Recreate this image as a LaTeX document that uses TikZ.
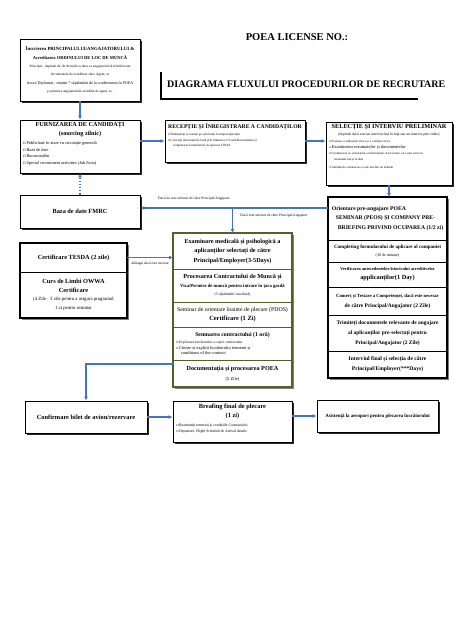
\documentclass[tikz,border=0pt]{standalone}
\usepackage{fontspec}
\setmainfont{Liberation Serif}
\newfontfamily\symfont{DejaVu Sans}
\usetikzlibrary{arrows.meta,backgrounds,positioning,fit,shadows}

\definecolor{flowblue}{RGB}{68,114,196}
\definecolor{stackgreen}{RGB}{79,98,40}
\newcommand{\fsz}[2]{\fontsize{#1}{#2}\selectfont}
\newcommand{\bul}{{\symfont ▫}\,}
\newcommand{\itembox}[2]{\parbox[t]{#1}{\raggedright #2}}

\begin{document}
\begin{tikzpicture}[x=1pt, y=-1pt,
    shadowbox/.style 2 args={draw, line width=0.9pt, fill=white,
        minimum width=#1, minimum height=#2, inner sep=1pt, align=center,
        drop shadow={shadow xshift=1.6pt, shadow yshift=-1.6pt, fill=black!85, opacity=1}},
    boxtext/.style={inner sep=0pt, align=center},
    cell/.style={draw=#1, line width=0.6pt, minimum width=119, inner sep=1pt,
        outer sep=0pt, align=center},
    stackframe/.style={draw=#1, line width=1.2pt, fill=white, inner sep=0pt,
        drop shadow={shadow xshift=1.6pt, shadow yshift=-1.6pt, fill=black!50, opacity=1}},
    flow/.style={flowblue, line width=1.1pt, -{Latex[length=4pt, width=4pt]}},
    note/.style={inner sep=0.5pt, font=\fsz{3.6}{4}},
]

\useasboundingbox (0,0) rectangle (474,632);
\begin{scope}[on background layer]
\fill[white] (0,0) rectangle (474,632);
\end{scope}

% headings
\node[font=\bfseries\fsz{10.5}{12}] (license) at (297,37) {POEA LICENSE NO.:};
\node[anchor=west, inner sep=0pt, font=\bfseries\fsz{10}{12}] (chart) at (167,84)
    {DIAGRAMA FLUXULUI PROCEDURILOR DE RECRUTARE};
\draw[line width=2pt] (161,72) -- (161,99) -- (418,99);

% top row
\node[shadowbox={120}{62}, font=\fsz{3.5}{8.4}] (reg) at (80,70) {%
    {\bfseries\fsz{4.8}{8.4}Înscrierea PRINCIPALULUI/ANGAJATORULUI \&}\\
    {\bfseries\fsz{4.5}{8.4}Acreditarea ORDINULUI DE LOC DE MUNCĂ}\\
    Principal - depinde de cât de mult va dura ca angajatorul să trimită toate\\
    documentele de acreditare către Agent, se\\
    {\fsz{4.1}{8.4}Acces Diplomat - minim 7 săptămâni de la confirmarea la POEA}\\
    și primirea angajatorului acreditat de agent, se.};

\node[shadowbox={120}{53}] (src) at (80,146.5) {};
\node[boxtext, below=3pt of src.north, font=\bfseries\fsz{6.2}{9}] (src-text)
    {FURNIZAREA DE CANDIDAȚI\\(sourcing zilnic)\\
    \itembox{114pt}{\mdseries\fsz{4.3}{6.5}\bul Publicitate în ziare cu circulație generală\\
    \bul Bază de date\\ \bul Recomandări\\ \bul Special recruitment activities (Job Fairs)}};

\node[shadowbox={140}{42}] (rec) at (235,141) {};
\node[boxtext, below=3.5pt of rec.north, font=\bfseries\fsz{5.7}{7.5}] (rec-text)
    {RECEPȚIE ȘI ÎNREGISTRARE A CANDIDAȚILOR\\
    \itembox{134pt}{\mdseries\fsz{3.2}{5.3}\bul Întâmpinați și asistați pe solicitanți în timpul aplicației\\
    \bul Colectați informații de bază prin trimiterea CV-ului/Rezumatului și\\
    \hspace*{5pt}completarea formularului de aplicare FINAS}};

\node[shadowbox={126}{63}] (sel) at (389,153.5) {};
\node[boxtext, below=3pt of sel.north, font=\bfseries\fsz{6.3}{7}] (sel-text)
    {SELECȚIE ȘI INTERVIU PRELIMINAR\\
    {\mdseries\fsz{3.7}{7}(depinde dacă este un interviu față în față sau un interviu prin video)}\\
    \itembox{120pt}{\mdseries\fsz{3.1}{5.8}\bul Evaluare a atributelor fizice și a condiției fizice\\
    \bul {\fsz{4.5}{5.8}Examinarea rezumatelor și documentelor}\\
    \bul Confirmarea cu solicitantul a informațiilor, dacă există, care sunt scrise în\\
    \hspace*{5pt}rezumatul său și în date\\[2pt]
    \bul Abilități de comunicare și alte niveluri de abilități}};

\node[shadowbox={120}{33}, font=\bfseries\fsz{6.3}{7}] (fmrc) at (80,211.5) {Baza de date FMRC};

% TESDA / OWWA
\node[cell=black, minimum width=107, minimum height=29, font=\bfseries\fsz{6.3}{8}] (tesda)
    at (73.5,257.5) {Certificare TESDA (2 zile)};
\node[cell=black, minimum width=107, minimum height=46, below=0pt of tesda, font=\fsz{4.8}{8.6}] (owwa)
    {{\bfseries\fsz{6.3}{8.6}Curs de Limbi OWWA}\\ {\bfseries\fsz{6.3}{8.6}Certificare}\\
    (4 Zile : 3 zile pentru a asigura programul\\ 1 zi pentru seminar};
\begin{scope}[on background layer]
\node[stackframe=black, fit=(tesda)(owwa)] (tesda-frame) {};
\end{scope}

% medical -> POEA
\node[cell=stackgreen, minimum height=36, font=\bfseries\fsz{6.2}{9.5}] (exam) at (232.5,251)
    {Examinare medicală și psihologică a\\aplicanților selectați de către\\Principal/Employer(3-5Days)};
\node[cell=stackgreen, minimum height=33, below=0pt of exam, font=\fsz{4}{8.6}] (contract)
    {{\bfseries\fsz{6.2}{8.6}Procesarea Contractului de Muncă și}\\
    {\bfseries\fsz{4.7}{8.6}Viza/Permise de muncă pentru intrare în țara gazdă}\\
    {\itshape\fsz{3.8}{8.6}(5 săptămâni sau două)}};
\node[cell=stackgreen, minimum height=25, below=0pt of contract, font=\fsz{5.8}{9.5}] (pdos)
    {Seminar de orientare înainte de plecare (PDOS)\\ {\bfseries\fsz{6.4}{9.5}Certificare (1 Zi)}};
\node[cell=stackgreen, minimum height=33, below=0pt of pdos, font=\bfseries\fsz{5.8}{7}] (sign)
    {Semnarea contractului (1 oră)\\
    \itembox{113pt}{\mdseries\fsz{3.6}{5.6}\bul Explicarea lucrătorului a copiei contractului\\
    \bul {\fsz{4.4}{5.6}Citește și explică lucrătorului termenii și}\\
    \hspace*{5pt}{\fsz{4.4}{5.6}conditions of the contract}}};
\node[cell=stackgreen, minimum height=27, below=0pt of sign, font=\fsz{4.5}{10}] (poea)
    {{\bfseries\fsz{6.2}{10}Documentația și procesarea POEA}\\(5 Zile)};
\begin{scope}[on background layer]
\node[stackframe=stackgreen, fit=(exam)(poea)] (exam-frame) {};
\end{scope}

% orientation -> final interview
\node[cell=black, minimum height=43, align=left, font=\bfseries\fsz{5.7}{9.3}] (peos) at (387.5,218.5)
    {Orientare pre-angajare POEA\\ \hspace*{4pt}SEMINAR (PEOS) ȘI COMPANY PRE-\\
    \hspace*{6pt}BRIEFING PRIVIND OCUPAREA (1/2 zi)};
\node[cell=black, minimum height=22, below=0pt of peos, font=\fsz{4}{8}] (form)
    {{\bfseries\fsz{5}{8}Completing formularului de aplicare al companiei}\\(30 de minute)};
\node[cell=black, minimum height=25, below=0pt of form, font=\bfseries\fsz{4.4}{9}] (check)
    {Verificarea antecedentelor/istoricului acreditivelor\\{\fsz{6.3}{9}applicanților(1 Day)}};
\node[cell=black, minimum height=28, below=0pt of check, font=\bfseries\fsz{4.7}{10}] (trade)
    {Comerț și Testare a Competenței, dacă este necesar\\{\fsz{5.5}{10}de către Principal/Angajator (2 Zile)}};
\node[cell=black, minimum height=36, below=0pt of trade, font=\bfseries\fsz{5.4}{10}] (docs)
    {Trimiteți documentele relevante de angajare\\al aplicanților pre-selectați pentru\\Principal/Angajator (2 Zile)};
\node[cell=black, minimum height=27, below=0pt of docs, font=\bfseries\fsz{5.6}{10}] (final)
    {Interviul final și selecția de către\\Principal/Employer(***Days)};
\begin{scope}[on background layer]
\node[stackframe=black, fit=(peos)(final)] (peos-frame) {};
\end{scope}

% bottom row
\node[shadowbox={122}{32}, font=\bfseries\fsz{6.4}{7}] (ticket) at (86,417) {Confirmare bilet de avion/rezervare};
\node[shadowbox={119}{41}] (brief) at (232.5,421.5) {};
\node[boxtext, below=3pt of brief.north, font=\bfseries\fsz{6.4}{9}] (brief-text)
    {Breafing final de plecare\\(1 zi)\\
    \itembox{113pt}{\mdseries\fsz{3.8}{6}\bul Reamintiți termenii și condițiile Contractului\\
    \bul Departure, Flight Schedule \& Arrival details}};
\node[shadowbox={121}{32}, font=\bfseries\fsz{4.9}{7}] (airport) at (377.5,416)
    {Asistență la aeroport pentru plecarea lucrătorului};

% connectors
\draw[flow] (reg) -- (src);
\draw[flow] (src.east |- rec.west) -- (rec.west);
\draw[flow] (rec.east) -- (rec.east -| sel.west);
\draw[flow] (sel.south) -- (sel.south |- peos.north);
\draw[flow, dotted] (fmrc) -- (src);
\coordinate (split) at (232.5,208);
\draw[flow] (peos.west |- split) -- (fmrc.east |- split);
\draw[flow] (split) -- (exam);
\node[note] (reject) at (194,199) {Dacă nu este selectat de către Principal/Angajator};
\node[note] (accept) at (274,215.5) {Dacă este selectat de către Principal/Angajator};
\draw[flow] (tesda.east) -- (tesda.east -| exam.west);
\node[note] (addon) at (150,264) {Adăugat dacă este necesar};
\coordinate (docturn) at (86,364);
\draw[flow] (poea.west |- docturn) -- (docturn) -- (ticket);
\draw[flow] (ticket.east) -- (ticket.east -| brief.west);
\draw[flow] (airport.west -| brief.east) -- (airport.west);
\end{tikzpicture}
\end{document}
